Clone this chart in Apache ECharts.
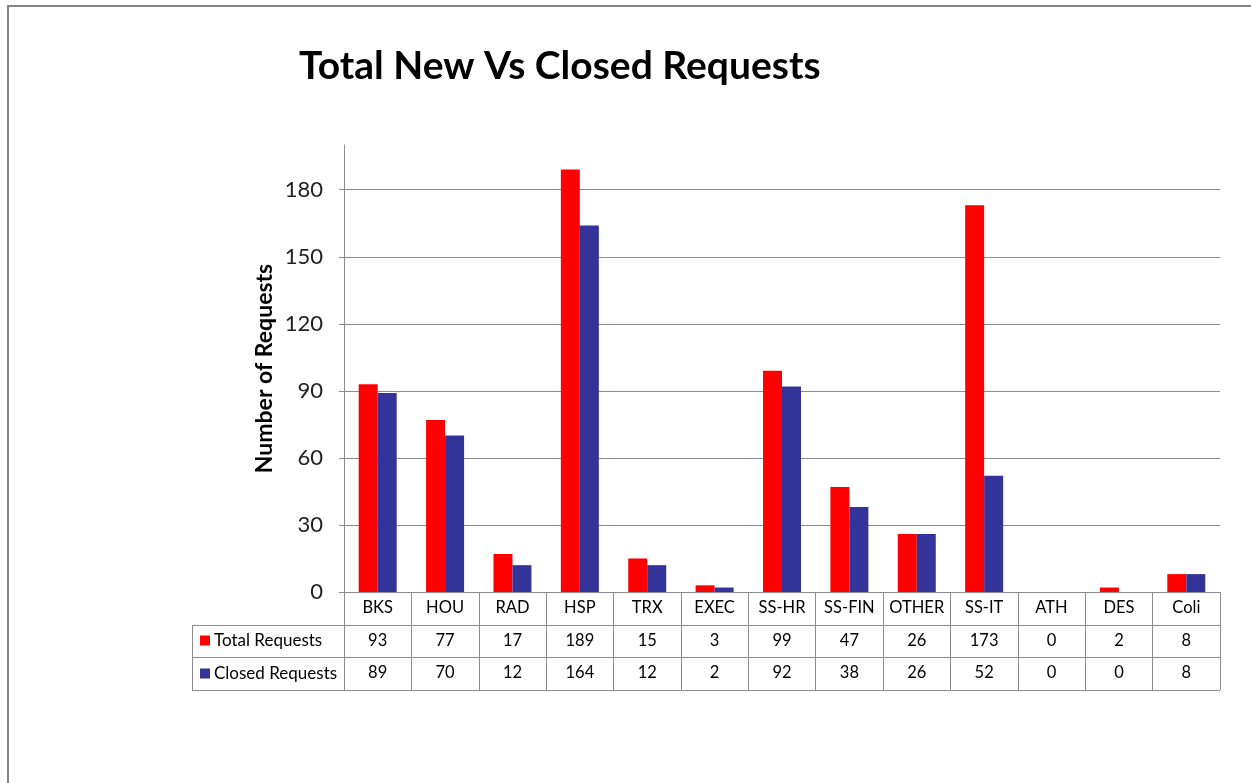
<!DOCTYPE html>
<html>
<head>
<meta charset="utf-8">
<script src="https://cdn.jsdelivr.net/npm/echarts@6/dist/echarts.min.js"></script>
<style>
  html, body { margin: 0; padding: 0; background: #fff; }
  #chart { width: 1251px; height: 783px; }
</style>
</head>
<body>
<div id="chart"></div>
<script>
const categories = ['BKS', 'HOU', 'RAD', 'HSP', 'TRX', 'EXEC', 'SS-HR', 'SS-FIN', 'OTHER', 'SS-IT', 'ATH', 'DES', 'Coli'];
const totalRequests = [93, 77, 17, 189, 15, 3, 99, 47, 26, 173, 0, 2, 8];
const closedRequests = [89, 70, 12, 164, 12, 2, 92, 38, 26, 52, 0, 0, 8];
const seriesNames = ['Total Requests', 'Closed Requests'];
const seriesColors = ['#FF0000', '#333399'];
const titleText = 'Total New Vs Closed Requests';
const yAxisName = 'Number of Requests';

// layout
const W = 1251, H = 783;
const gridLeft = 344, gridRight = 31, gridTop = 145, gridBottom = 191;
const rowH = 32.5;
const tableLeft = 192;
const font = 'Lato, "Liberation Sans", sans-serif';
const lineCol = '#8c8c8c';

const axisY = H - gridBottom;          // y of x-axis line
const plotRight = W - gridRight;

const graphics = [];
function hline(x1, x2, y) {
  graphics.push({ type: 'line', silent: true, shape: { x1, y1: y, x2, y2: y }, style: { stroke: lineCol, lineWidth: 1 } });
}
function vline(x, y1, y2) {
  graphics.push({ type: 'line', silent: true, shape: { x1: x, y1, x2: x, y2 }, style: { stroke: lineCol, lineWidth: 1 } });
}
// table frame
hline(tableLeft, plotRight, Math.round(axisY + rowH) + 0.5);
hline(tableLeft, plotRight, Math.round(axisY + 2 * rowH) + 0.5);
hline(tableLeft, plotRight, Math.round(axisY + 3 * rowH) + 0.5);
vline(tableLeft + 0.5, Math.round(axisY + rowH) + 0.5, Math.round(axisY + 3 * rowH) + 0.5);
// outer chart border (top & left visible)
graphics.push({ type: 'line', silent: true, shape: { x1: 7, y1: 6, x2: W, y2: 6 }, style: { stroke: '#858585', lineWidth: 2 } });
graphics.push({ type: 'line', silent: true, shape: { x1: 8, y1: 6, x2: 8, y2: H }, style: { stroke: '#858585', lineWidth: 2 } });

const chart = echarts.init(document.getElementById('chart'), null, { renderer: 'canvas' });

const tableAxis = (values, offset) => ({
  type: 'category',
  gridIndex: 0,
  position: 'bottom',
  offset: offset,
  data: categories,
  axisLine: { show: false },
  axisTick: { show: false },
  splitLine: { show: false },
  axisLabel: {
    interval: 0,
    margin: 7,
    fontFamily: font,
    fontSize: 16.5,
    color: '#000',
    formatter: (v, i) => String(values[i])
  }
});

chart.setOption({
  animation: false,
  backgroundColor: '#fff',
  color: seriesColors,
  title: {
    text: titleText,
    left: 294,
    top: 42,
    textStyle: { fontFamily: font, fontSize: 39, fontWeight: 'bold', color: '#000' }
  },
  legend: {
    orient: 'vertical',
    left: 195,
    top: axisY + rowH + 1,
    itemWidth: 10,
    itemHeight: 10,
    itemGap: 13,
    icon: 'rect',
    data: seriesNames,
    textStyle: { fontFamily: font, fontSize: 17, color: '#000', lineHeight: 20, padding: [0, 0, 0, -1] }
  },
  grid: { left: gridLeft, right: gridRight, top: gridTop, bottom: gridBottom, containLabel: false },
  xAxis: [
    {
      type: 'category',
      data: categories,
      position: 'bottom',
      axisLine: { show: true, lineStyle: { color: lineCol } },
      axisTick: { show: true, interval: 0, inside: false, length: Math.round(3 * rowH), lineStyle: { color: lineCol } },
      axisLabel: { interval: 0, margin: 7, fontFamily: font, fontSize: 16.5, color: '#000' },
      splitLine: { show: false }
    },
    tableAxis(totalRequests, Math.round(rowH)),
    tableAxis(closedRequests, Math.round(2 * rowH))
  ],
  yAxis: {
    type: 'value',
    min: 0,
    max: 200,
    interval: 30,
    name: yAxisName,
    nameLocation: 'middle',
    nameRotate: 90,
    nameGap: 68,
    nameMoveOverlap: false,
    nameTextStyle: { fontFamily: font, fontSize: 23, fontWeight: 'bold', color: '#000' },
    axisLine: { show: true, lineStyle: { color: lineCol } },
    axisTick: { show: true, length: 5, lineStyle: { color: lineCol } },
    axisLabel: { margin: 21, fontFamily: font, fontSize: 22, color: '#222', showMaxLabel: false },
    splitLine: { show: true, showMaxLine: false, lineStyle: { color: lineCol, width: 1 } }
  },
  series: [
    {
      name: seriesNames[0],
      type: 'bar',
      xAxisIndex: 0,
      data: totalRequests,
      barWidth: 19,
      barGap: '0%',
      itemStyle: { color: seriesColors[0] }
    },
    {
      name: seriesNames[1],
      type: 'bar',
      xAxisIndex: 0,
      data: closedRequests,
      barWidth: 19,
      barGap: '0%',
      itemStyle: { color: seriesColors[1] }
    }
  ],
  graphic: graphics
});
</script>
</body>
</html>
